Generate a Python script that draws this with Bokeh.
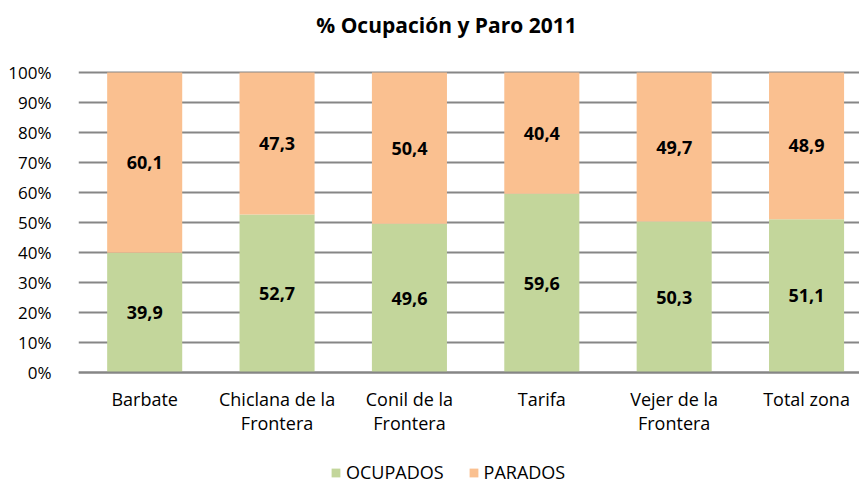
from bokeh.plotting import figure
from bokeh.models import ColumnDataSource, LabelSet, Label, Legend, LegendItem, FixedTicker, Range1d
from bokeh.core.properties import value
from bokeh.embed import file_html
from bokeh.resources import INLINE

title_text = "% Ocupación y Paro 2011"
categories = ["Barbate", "Chiclana de la\nFrontera", "Conil de la\nFrontera", "Tarifa", "Vejer de la\nFrontera", "Total zona"]
ocupados = [39.9, 52.7, 49.6, 59.6, 50.3, 51.1]
parados = [60.1, 47.3, 50.4, 40.4, 49.7, 48.9]
y_ticks = [0, 10, 20, 30, 40, 50, 60, 70, 80, 90, 100]

GREEN = "#C3D69B"
ORANGE = "#FAC090"
FONT = "Open Sans"

xs = list(range(len(categories)))
src = ColumnDataSource(dict(
    x=xs,
    ocup_top=ocupados,
    par_top=[o + p for o, p in zip(ocupados, parados)],
    ocup_mid=[o / 2 for o in ocupados],
    par_mid=[o + p / 2 for o, p in zip(ocupados, parados)],
    ocup_lbl=[f"{v:.1f}".replace(".", ",") for v in ocupados],
    par_lbl=[f"{v:.1f}".replace(".", ",") for v in parados],
))

Y_TOP = 124.0
p = figure(width=859, height=481, output_backend="svg", toolbar_location=None,
           x_range=Range1d(-0.5, 5.4), y_range=Range1d(-36.33, Y_TOP),
           min_border_left=78, min_border_right=0, min_border_top=0, min_border_bottom=0)
p.outline_line_color = None
p.background_fill_color = "white"
p.border_fill_color = "white"

r1 = p.vbar(x="x", top="ocup_top", bottom=0, width=0.567, source=src, fill_color=GREEN, line_color=None)
r2 = p.vbar(x="x", top="par_top", bottom="ocup_top", width=0.567, source=src, fill_color=ORANGE, line_color=None)

for col_y, col_t in (("ocup_mid", "ocup_lbl"), ("par_mid", "par_lbl")):
    ls = LabelSet(x="x", y=col_y, text=col_t, source=src, text_align="center", text_baseline="middle",
                  text_font=value(FONT), text_font_style="bold", text_font_size="18px", text_color="black")
    p.add_layout(ls)

# y axis
p.yaxis.ticker = FixedTicker(ticks=y_ticks)
p.yaxis.major_label_overrides = {t: f"{t}%" for t in y_ticks}
p.yaxis.axis_line_color = None
p.yaxis.major_tick_line_color = None
p.yaxis.minor_tick_line_color = None
p.yaxis.major_label_standoff = 21
p.yaxis.major_label_text_font = FONT
p.yaxis.major_label_text_font_size = "17px"
p.yaxis.major_label_text_color = "black"

# x axis (drawn at y = 0 inside the frame)
p.xaxis.fixed_location = 0
p.xaxis.ticker = FixedTicker(ticks=xs)
p.xaxis.major_label_overrides = {i: c for i, c in enumerate(categories)}
p.xaxis.axis_line_color = "#868686"
p.xaxis.axis_line_width = 2
p.xaxis.major_tick_line_color = None
p.xaxis.minor_tick_line_color = None
p.xaxis.major_label_standoff = 8
p.xaxis.major_label_text_font = FONT
p.xaxis.major_label_text_font_size = "18px"
p.xaxis.major_label_text_line_height = 1.0
p.xaxis.major_label_text_color = "black"

p.xgrid.grid_line_color = None
p.ygrid.ticker = FixedTicker(ticks=y_ticks)
p.ygrid.grid_line_color = "#868686"
p.ygrid.grid_line_width = 2

# chart title, placed in the empty band above 100 %
p.add_layout(Label(x=2.28, y=Y_TOP - 8.3, text=title_text, text_align="center", text_baseline="middle",
                   text_font=FONT, text_font_style="bold", text_font_size="21px", text_color="black"))

legend = Legend(items=[LegendItem(label="OCUPADOS", renderers=[r1]),
                       LegendItem(label="PARADOS", renderers=[r2])],
                orientation="horizontal", location=(252, -3),
                label_text_font=FONT, label_text_font_size="18px", label_text_color="black",
                glyph_width=11, glyph_height=11, spacing=24, label_standoff=5,
                border_line_color=None, background_fill_alpha=0, padding=2, margin=0)
p.add_layout(legend, "center")

open("out.html", "w").write(file_html(p, INLINE))
